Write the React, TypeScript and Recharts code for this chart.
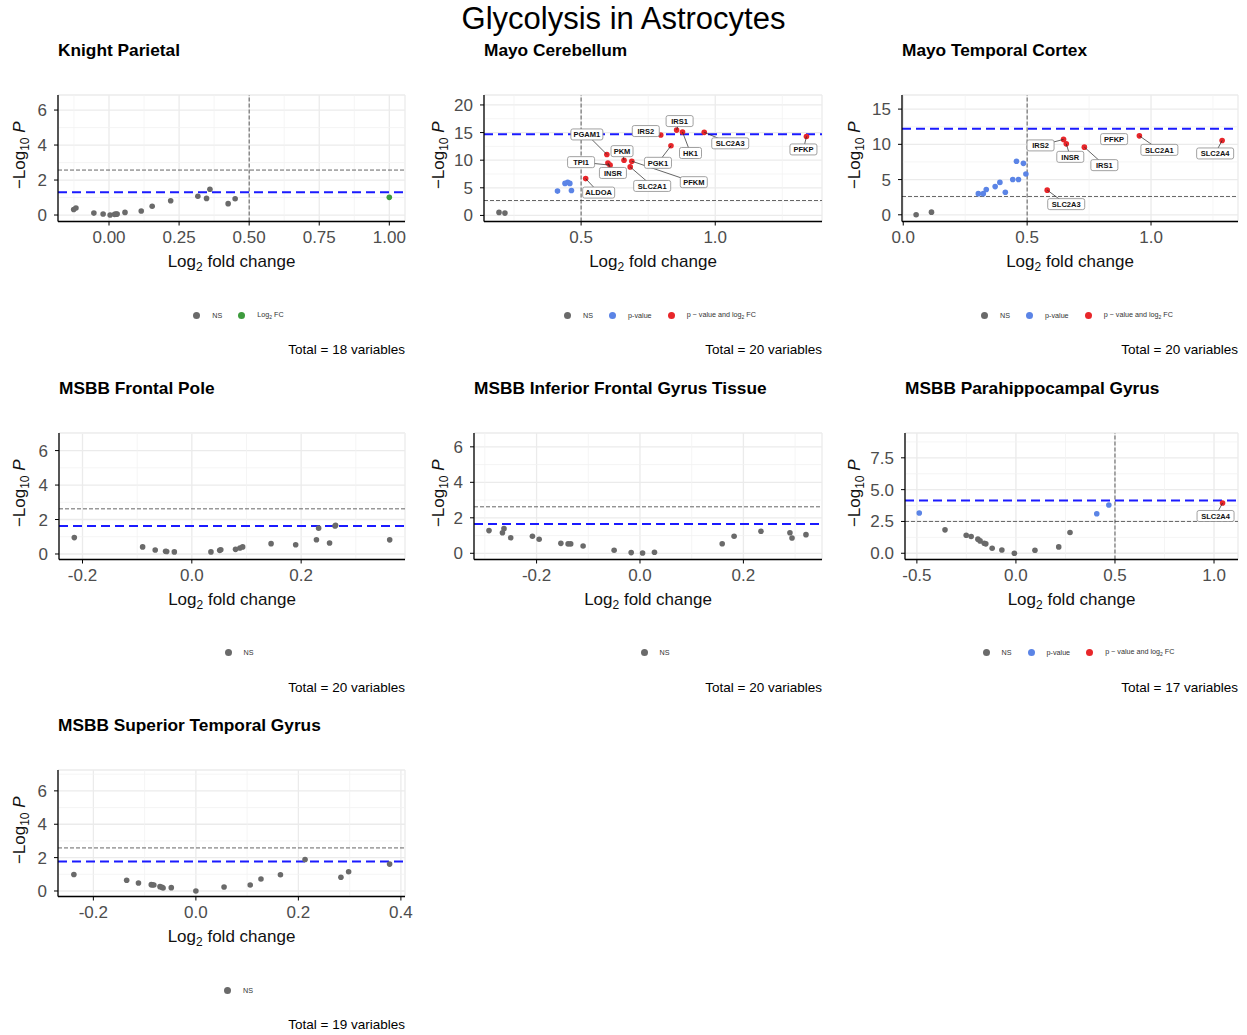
import React from "react";
import { ScatterChart, Scatter, XAxis, YAxis, CartesianGrid, ReferenceLine } from "recharts";

const FONT = "'Liberation Sans', Arial, Helvetica, sans-serif";

// EnhancedVolcano-ish colours
const COL_NS = "#6a6a6a";
const COL_FC = "#3d9b3d";
const COL_P = "#5b84e6";
const COL_PFC = "#e8262a";

type Pt = { fc: number; logp: number; gene?: string };

const panelTitles = [
  "Knight Parietal",
  "Mayo Cerebellum",
  "Mayo Temporal Cortex",
  "MSBB Frontal Pole",
  "MSBB Inferior Frontal Gyrus Tissue",
  "MSBB Parahippocampal Gyrus",
  "MSBB Superior Temporal Gyrus",
];
const totals = [18, 20, 20, 20, 20, 17, 19];
const blueCutoffs = [1.3, 14.7, 12.2, 1.63, 1.65, 4.15, 1.77];
const greyCutoffs = [2.57, 2.7, 2.6, 2.62, 2.62, 2.5, 2.58];
const fcCutoff = 0.5;

// Knight Parietal
const knightNS: Pt[] = [
  { fc: -0.126, logp: 0.32 }, { fc: -0.118, logp: 0.4 }, { fc: -0.054, logp: 0.11 },
  { fc: -0.021, logp: 0.06 }, { fc: 0.004, logp: 0.0 }, { fc: 0.02, logp: 0.04 },
  { fc: 0.025, logp: 0.05 }, { fc: 0.029, logp: 0.06 }, { fc: 0.057, logp: 0.15 },
  { fc: 0.115, logp: 0.23 }, { fc: 0.154, logp: 0.5 }, { fc: 0.22, logp: 0.82 },
  { fc: 0.317, logp: 1.07 }, { fc: 0.348, logp: 0.95 }, { fc: 0.36, logp: 1.47 },
  { fc: 0.425, logp: 0.65 }, { fc: 0.45, logp: 0.93 },
];
const knightFC: Pt[] = [{ fc: 1.0, logp: 1.01 }];

// Mayo Cerebellum
const cerebNS: Pt[] = [{ fc: 0.194, logp: 0.55 }, { fc: 0.216, logp: 0.42 }];
const cerebP: Pt[] = [
  { fc: 0.412, logp: 4.4 }, { fc: 0.44, logp: 5.8 }, { fc: 0.45, logp: 6.0 },
  { fc: 0.458, logp: 5.8 }, { fc: 0.464, logp: 4.5 },
];
const cerebPFC: Pt[] = [
  { fc: 0.517, logp: 6.67, gene: "ALDOA" },
  { fc: 0.596, logp: 11.04, gene: "PGAM1" },
  { fc: 0.608, logp: 9.1, gene: "TPI1" },
  { fc: 0.6, logp: 9.5, gene: "INSR" },
  { fc: 0.66, logp: 10.0, gene: "PKM" },
  { fc: 0.683, logp: 8.78, gene: "SLC2A1" },
  { fc: 0.689, logp: 9.82, gene: "PFKM" },
  { fc: 0.835, logp: 12.6, gene: "PGK1" },
  { fc: 0.797, logp: 14.55, gene: "IRS2" },
  { fc: 0.856, logp: 15.45, gene: "IRS1" },
  { fc: 0.878, logp: 15.1, gene: "HK1" },
  { fc: 0.959, logp: 15.04, gene: "SLC2A3" },
  { fc: 1.34, logp: 14.3, gene: "PFKP" },
];

// Mayo Temporal Cortex
const tempNS: Pt[] = [{ fc: 0.052, logp: 0.0 }, { fc: 0.114, logp: 0.38 }];
const tempP: Pt[] = [
  { fc: 0.303, logp: 3.0 }, { fc: 0.323, logp: 3.0 }, { fc: 0.335, logp: 3.6 },
  { fc: 0.371, logp: 4.0 }, { fc: 0.39, logp: 4.6 }, { fc: 0.412, logp: 3.2 },
  { fc: 0.442, logp: 5.0 }, { fc: 0.465, logp: 5.0 }, { fc: 0.457, logp: 7.6 },
  { fc: 0.485, logp: 7.3 }, { fc: 0.495, logp: 5.8 },
];
const tempPFC: Pt[] = [
  { fc: 0.581, logp: 3.5, gene: "SLC2A3" },
  { fc: 0.647, logp: 10.7, gene: "IRS2" },
  { fc: 0.658, logp: 10.07, gene: "INSR" },
  { fc: 0.731, logp: 9.6, gene: "IRS1" },
  { fc: 0.851, logp: 10.74, gene: "PFKP" },
  { fc: 0.953, logp: 11.2, gene: "SLC2A1" },
  { fc: 1.287, logp: 10.55, gene: "SLC2A4" },
];

// MSBB Frontal Pole
const frontalNS: Pt[] = [
  { fc: -0.215, logp: 0.95 }, { fc: -0.09, logp: 0.41 }, { fc: -0.067, logp: 0.23 },
  { fc: -0.048, logp: 0.16 }, { fc: -0.046, logp: 0.14 }, { fc: -0.032, logp: 0.12 },
  { fc: 0.035, logp: 0.12 }, { fc: 0.051, logp: 0.21 }, { fc: 0.053, logp: 0.25 },
  { fc: 0.08, logp: 0.27 }, { fc: 0.088, logp: 0.35 }, { fc: 0.093, logp: 0.41 },
  { fc: 0.145, logp: 0.6 }, { fc: 0.19, logp: 0.54 }, { fc: 0.228, logp: 0.83 },
  { fc: 0.232, logp: 1.5 }, { fc: 0.252, logp: 0.64 }, { fc: 0.263, logp: 1.67 },
  { fc: 0.262, logp: 1.62 }, { fc: 0.362, logp: 0.82 },
];

// MSBB Inferior Frontal Gyrus Tissue
const infFrontalNS: Pt[] = [
  { fc: -0.292, logp: 1.28 }, { fc: -0.266, logp: 1.16 }, { fc: -0.263, logp: 1.39 },
  { fc: -0.25, logp: 0.88 }, { fc: -0.208, logp: 0.96 }, { fc: -0.195, logp: 0.79 },
  { fc: -0.153, logp: 0.56 }, { fc: -0.139, logp: 0.53 }, { fc: -0.134, logp: 0.53 },
  { fc: -0.11, logp: 0.41 }, { fc: -0.05, logp: 0.17 }, { fc: -0.017, logp: 0.04 },
  { fc: 0.005, logp: 0.02 }, { fc: 0.028, logp: 0.06 }, { fc: 0.159, logp: 0.54 },
  { fc: 0.182, logp: 0.96 }, { fc: 0.234, logp: 1.24 }, { fc: 0.29, logp: 1.16 },
  { fc: 0.294, logp: 0.86 }, { fc: 0.321, logp: 1.05 },
];

// MSBB Parahippocampal Gyrus
const paraNS: Pt[] = [
  { fc: -0.358, logp: 1.84 }, { fc: -0.251, logp: 1.42 }, { fc: -0.226, logp: 1.32 },
  { fc: -0.192, logp: 1.11 }, { fc: -0.181, logp: 0.97 }, { fc: -0.16, logp: 0.79 },
  { fc: -0.152, logp: 0.74 }, { fc: -0.12, logp: 0.39 }, { fc: -0.071, logp: 0.26 },
  { fc: -0.008, logp: 0.0 }, { fc: 0.096, logp: 0.24 }, { fc: 0.216, logp: 0.5 },
  { fc: 0.273, logp: 1.63 },
];
const paraP: Pt[] = [
  { fc: -0.488, logp: 3.16 }, { fc: 0.408, logp: 3.1 }, { fc: 0.469, logp: 3.79 },
];
const paraPFC: Pt[] = [{ fc: 1.043, logp: 3.95, gene: "SLC2A4" }];

// MSBB Superior Temporal Gyrus
const supTempNS: Pt[] = [
  { fc: -0.238, logp: 0.99 }, { fc: -0.135, logp: 0.64 }, { fc: -0.112, logp: 0.48 },
  { fc: -0.087, logp: 0.38 }, { fc: -0.085, logp: 0.37 }, { fc: -0.082, logp: 0.36 },
  { fc: -0.07, logp: 0.26 }, { fc: -0.066, logp: 0.22 }, { fc: -0.064, logp: 0.18 },
  { fc: -0.048, logp: 0.2 }, { fc: 0.0, logp: 0.0 }, { fc: 0.055, logp: 0.24 },
  { fc: 0.106, logp: 0.36 }, { fc: 0.127, logp: 0.72 }, { fc: 0.165, logp: 0.97 },
  { fc: 0.213, logp: 1.89 }, { fc: 0.283, logp: 0.82 }, { fc: 0.298, logp: 1.15 },
  { fc: 0.378, logp: 1.61 },
];

// axis ranges and ticks
const xDomains: [number, number][] = [
  [-0.182, 1.056], [0.138, 1.398], [-0.005, 1.351],
  [-0.243, 0.39], [-0.321, 0.352], [-0.56, 1.121], [-0.269, 0.408],
];
const yDomains: [number, number][] = [
  [-0.37, 6.86], [-1.1, 21.8], [-0.95, 17.0],
  [-0.32, 7.02], [-0.35, 6.78], [-0.49, 9.45], [-0.33, 7.25],
];
const xTicks = [
  [0, 0.25, 0.5, 0.75, 1.0], [0.5, 1.0], [0, 0.5, 1.0],
  [-0.2, 0, 0.2], [-0.2, 0, 0.2], [-0.5, 0, 0.5, 1.0], [-0.2, 0, 0.2, 0.4],
];
const xMinor = [
  [-0.125, 0.125, 0.375, 0.625, 0.875], [0.25, 0.75, 1.25], [0.25, 0.75, 1.25],
  [-0.1, 0.1, 0.3], [-0.3, -0.1, 0.1, 0.3], [-0.25, 0.25, 0.75], [-0.1, 0.1, 0.3],
];
const yTicks = [
  [0, 2, 4, 6], [0, 5, 10, 15, 20], [0, 5, 10, 15],
  [0, 2, 4, 6], [0, 2, 4, 6], [0, 2.5, 5, 7.5], [0, 2, 4, 6],
];
const yMinor = [
  [1, 3, 5, 7], [2.5, 7.5, 12.5, 17.5], [2.5, 7.5, 12.5],
  [1, 3, 5, 7], [1, 3, 5, 7], [1.25, 3.75, 6.25, 8.75], [1, 3, 5, 7],
];
const xDecimals = [2, 1, 1, 1, 1, 1, 1];
const yDecimals = [0, 0, 0, 0, 0, 1, 0];

// label box nudges (pixels from the point) for ggrepel-style labels
const labelNudge: Record<string, [number, number]> = {
  "1:ALDOA": [13, 14], "1:PGAM1": [-20, -20], "1:TPI1": [-29, -3], "1:INSR": [5, 10],
  "1:PKM": [-2, -9], "1:SLC2A1": [22, 19], "1:PFKM": [62, 21], "1:PGK1": [-13, 17],
  "1:IRS2": [-15, -4], "1:IRS1": [3, -9], "1:HK1": [8, 21], "1:SLC2A3": [26, 11],
  "1:PFKP": [-3, 13],
  "2:SLC2A3": [19, 14], "2:IRS2": [-23, 6], "2:INSR": [4, 13], "2:IRS1": [20, 18],
  "2:PFKP": [0, 0], "2:SLC2A1": [20, 14], "2:SLC2A4": [-7, 13],
  "5:SLC2A4": [-7, 13],
};

type LegendKey = "NS" | "FC" | "P" | "PFC";
const legendKinds: LegendKey[][] = [
  ["NS", "FC"], ["NS", "P", "PFC"], ["NS", "P", "PFC"],
  ["NS"], ["NS"], ["NS", "P", "PFC"], ["NS"],
];

const seriesNS = [knightNS, cerebNS, tempNS, frontalNS, infFrontalNS, paraNS, supTempNS];
const seriesFC = [knightFC, [], [], [], [], [], []];
const seriesP = [[], cerebP, tempP, [], [], paraP, []];
const seriesPFC = [[], cerebPFC, tempPFC, [], [], paraPFC, []];

// layout
const cellLefts = [0, 419, 835];
const plotLefts = [58, 484, 902, 59, 474, 905, 58];
const plotRights = [405, 822, 1238];
const ROW_TOP = 95;
const ROW_STEP = 337.5;
const PLOT_H = 126.5;
const M_TOP = 5;
const M_RIGHT = 9;
const XAXIS_H = 60;

const dot = (color: string) => (props: any) =>
  <circle cx={props.cx} cy={props.cy} r={2.8} fill={color} />;

const labelShape = (idx: number) => (props: any) => {
  const { cx, cy, payload } = props;
  const gene: string = payload.gene;
  const [dx, dy] = labelNudge[`${idx}:${gene}`] ?? [0, 12];
  const w = gene.length * 5 + 7;
  const h = 11;
  const bx = cx + dx;
  const by = cy + dy;
  return (
    <g>
      <line x1={cx} y1={cy} x2={bx} y2={by} stroke="#222" strokeWidth={0.7} />
      <rect x={bx - w / 2} y={by - h / 2} width={w} height={h} rx={2} fill="#fff" stroke="#8a8a8a" strokeWidth={0.8} />
      <text x={bx} y={by + 2.7} textAnchor="middle" fontSize={7.5} fontWeight="bold" fill="#111" fontFamily={FONT}>
        {gene}
      </text>
    </g>
  );
};

const renderXTitle = (props: any) => {
  const vb = props.viewBox;
  return (
    <text x={vb.x + vb.width / 2} y={vb.y + 45} textAnchor="middle" fontSize={17} fill="#111" fontFamily={FONT}>
      Log<tspan dy={4} fontSize={12}>2</tspan>
      <tspan dy={-4}> fold change</tspan>
    </text>
  );
};

const renderYTitle = (props: any) => {
  const vb = props.viewBox;
  const cx = vb.x + 25;
  const cy = vb.y + vb.height / 2 - 3;
  return (
    <text x={cx} y={cy} transform={`rotate(-90 ${cx} ${cy})`} textAnchor="middle" fontSize={17} fill="#111" fontFamily={FONT}>
      −Log<tspan dy={4} fontSize={12}>10</tspan>
      <tspan dy={-4} fontStyle="italic"> P</tspan>
    </text>
  );
};

const legendLabel = (k: LegendKey) => {
  if (k === "NS") return <span>NS</span>;
  if (k === "P") return <span>p-value</span>;
  if (k === "FC") return <span>Log<sub style={{ fontSize: 5 }}>2</sub> FC</span>;
  return <span>p − value and log<sub style={{ fontSize: 5 }}>2</sub> FC</span>;
};
const legendColor: Record<LegendKey, string> = { NS: COL_NS, FC: COL_FC, P: COL_P, PFC: COL_PFC };

function Panel({ i }: { i: number }) {
  const col = i % 3;
  const row = Math.floor(i / 3);
  const cellLeft = cellLefts[col];
  const plotLeft = plotLefts[i];
  const plotRight = plotRights[col];
  const plotTop = ROW_TOP + ROW_STEP * row;
  const yW = plotLeft - cellLeft;
  const width = plotRight - cellLeft + M_RIGHT;
  const height = M_TOP + PLOT_H + XAXIS_H;
  const plotCenter = (plotLeft + plotRight) / 2 + 7;
  const tickStyle = { fill: "#4d4d4d", fontSize: 17, fontFamily: FONT };

  return (
    <>
      <div style={{ position: "absolute", left: plotLeft, top: plotTop - 55, fontSize: 17.3, fontWeight: "bold", lineHeight: "20px", whiteSpace: "nowrap", color: "#000" }}>
        {panelTitles[i]}
      </div>
      <div style={{ position: "absolute", left: cellLeft, top: plotTop - M_TOP }}>
        <ScatterChart width={width} height={height} margin={{ top: M_TOP, right: M_RIGHT, left: 0, bottom: 0 }} style={{ overflow: "visible" }}>
          <CartesianGrid stroke="#ebebeb" strokeWidth={1.3} />
          {xMinor[i].map((v) => (
            <ReferenceLine key={`xm${v}`} x={v} stroke="#f2f2f2" strokeWidth={0.8} />
          ))}
          {yMinor[i].map((v) => (
            <ReferenceLine key={`ym${v}`} y={v} stroke="#f2f2f2" strokeWidth={0.8} />
          ))}
          <XAxis
            type="number"
            dataKey="fc"
            domain={xDomains[i]}
            allowDataOverflow
            ticks={xTicks[i]}
            interval={0}
            tickFormatter={(v: number) => v.toFixed(xDecimals[i])}
            tick={tickStyle}
            tickSize={4}
            tickMargin={5}
            axisLine={{ stroke: "#000", strokeWidth: 1.3 }}
            tickLine={{ stroke: "#000", strokeWidth: 1 }}
            height={XAXIS_H}
            label={renderXTitle}
          />
          <YAxis
            type="number"
            dataKey="logp"
            domain={yDomains[i]}
            allowDataOverflow
            ticks={yTicks[i]}
            interval={0}
            tickFormatter={(v: number) => v.toFixed(yDecimals[i])}
            tick={tickStyle}
            tickSize={4}
            tickMargin={7}
            axisLine={{ stroke: "#000", strokeWidth: 1.3 }}
            tickLine={{ stroke: "#000", strokeWidth: 1 }}
            width={yW}
            label={renderYTitle}
          />
          <ReferenceLine y={greyCutoffs[i]} stroke="#555" strokeWidth={0.9} strokeDasharray="4 2" />
          <ReferenceLine x={fcCutoff} stroke="#333" strokeWidth={0.8} strokeDasharray="4 2" />
          <Scatter data={seriesNS[i]} shape={dot(COL_NS)} isAnimationActive={false} />
          <Scatter data={seriesFC[i]} shape={dot(COL_FC)} isAnimationActive={false} />
          <Scatter data={seriesP[i]} shape={dot(COL_P)} isAnimationActive={false} />
          <Scatter data={seriesPFC[i]} shape={dot(COL_PFC)} isAnimationActive={false} />
          <ReferenceLine y={blueCutoffs[i]} stroke="#1a1aff" strokeWidth={2} strokeDasharray="9 5" />
          <Scatter data={seriesPFC[i]} shape={labelShape(i)} isAnimationActive={false} />
        </ScatterChart>
      </div>
      <div style={{ position: "absolute", left: plotCenter - 200, width: 400, top: plotTop + 214, height: 12, display: "flex", justifyContent: "center", alignItems: "center", fontSize: 7.2, color: "#333", whiteSpace: "nowrap" }}>
        {legendKinds[i].map((k) => (
          <div key={k} style={{ display: "flex", alignItems: "center", margin: "0 8px" }}>
            <span style={{ display: "inline-block", width: 7, height: 7, borderRadius: "50%", background: legendColor[k], marginRight: 12 }} />
            {legendLabel(k)}
          </div>
        ))}
      </div>
      <div style={{ position: "absolute", left: plotRight - 300, width: 300, top: plotTop + 247, fontSize: 13.5, lineHeight: "16px", textAlign: "right", color: "#000" }}>
        Total = {totals[i]} variables
      </div>
    </>
  );
}

export default function App() {
  return (
    <div style={{ position: "absolute", left: 0, top: 0, width: 1247, height: 1035, background: "#fff", fontFamily: FONT }}>
      <div style={{ position: "absolute", left: 0, top: 1, width: 1247, height: 36, lineHeight: "36px", textAlign: "center", fontSize: 31, color: "#000" }}>
        Glycolysis in Astrocytes
      </div>
      {panelTitles.map((_, i) => (
        <Panel key={i} i={i} />
      ))}
    </div>
  );
}
